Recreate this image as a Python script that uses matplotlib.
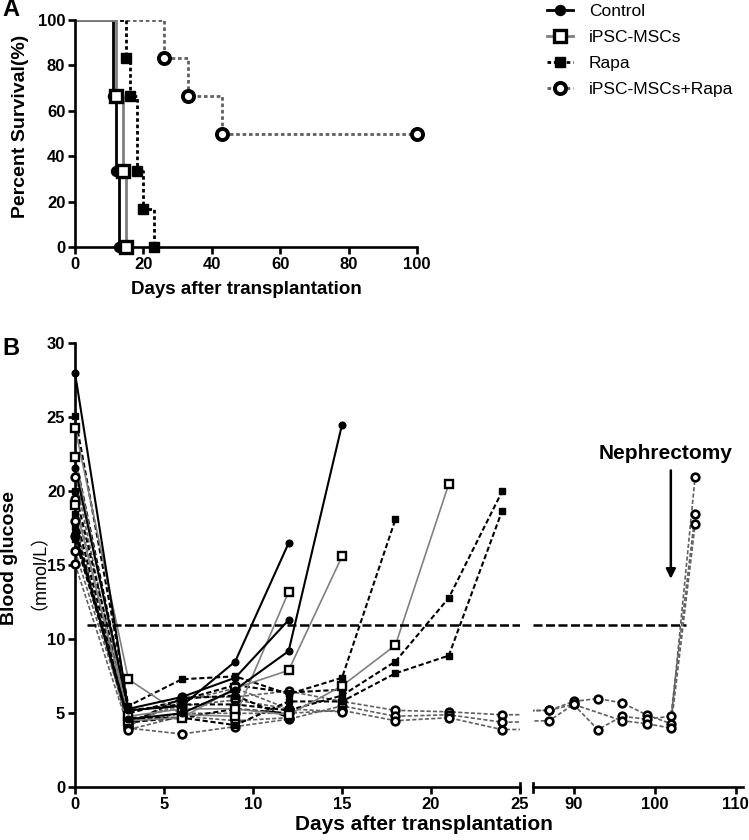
import matplotlib
matplotlib.use("Agg")
import matplotlib.pyplot as plt
from matplotlib.lines import Line2D

plt.rcParams["font.family"] = ["Liberation Sans", "Noto Sans CJK SC"]
plt.rcParams["font.weight"] = "bold"

# ---------------- data ----------------
groups = ["Control", "iPSC-MSCs", "Rapa", "iPSC-MSCs+Rapa"]

# panel A: survival step curves (time, percent)
surv_control_t = [0, 11, 12, 13]
surv_control_p = [100, 66.7, 33.3, 0]
surv_ipsc_t = [0, 12, 14, 15]
surv_ipsc_p = [100, 66.7, 33.3, 0]
surv_rapa_t = [0, 15, 16, 18, 20, 23]
surv_rapa_p = [100, 83.3, 66.7, 33.3, 16.7, 0]
surv_combo_t = [0, 26, 33, 43, 100]
surv_combo_p = [100, 83.3, 66.7, 50, 50]

# panel B: blood glucose per animal
days_early = [0, 3, 6, 9, 12, 15, 18, 21, 24]
days_late = [87, 90, 93, 96, 99, 102, 105]

bg_control = [
    [28.0, 5.2, 5.5, 8.5, 16.5],
    [21.6, 5.3, 6.1, 7.4, 11.3],
    [17.2, 4.6, 5.0, 6.6, 9.2, 24.5],
]
bg_ipsc = [
    [24.3, 7.3, 4.9, 4.8, 13.2],
    [22.3, 4.5, 4.7, 6.7, 7.9, 15.6],
    [19.1, 4.8, 5.3, 5.3, 4.9, 6.85, 9.6, 20.5],
]
bg_rapa = [
    [25.1, 5.5, 7.3, 7.5, 6.3, 7.4, 18.1],
    [22.3, 5.2, 5.6, 5.6, 5.2, 6.2, 8.5, 12.8, 20.0],
    [16.8, 4.7, 4.7, 4.2, 5.8, 5.8, 7.7, 8.9, 18.7],
    [20.0, 5.0, 5.9, 6.9, 6.4, 6.6],
    [18.5, 4.4, 4.7, 5.3, 5.0],
    [17.6, 4.3, 6.0, 6.2, 4.7],
]
bg_combo = [
    [21.0, 4.1, 6.1, 6.1, 6.5, 5.8, 5.2, 5.1, 4.9],
    [15.1, 4.0, 3.6, 4.1, 4.6, 5.5, 4.8, 4.9, 4.4],
    [17.0, 4.3, 5.0, 5.0, 5.0, 5.2, 4.5, 4.7, 3.9],
    [19.5, 4.2, 5.8, 6.7, 5.3, 5.1],
    [16.0, 4.5, 5.5, 5.9, 5.3],
    [18.0, 3.9, 4.8, 4.5, 4.7],
]
bg_combo_late = [
    [5.2, 5.8, 6.0, 5.7, 4.9, 4.3, 21.0],
    [5.2, 5.6, 3.9, 4.8, 4.6, 4.8, 18.5],
    [4.5, 5.6, None, 4.5, 4.3, 4.0, 17.8],
]

threshold = 11
nephrectomy_day = 102

# ---------------- styles ----------------
dash_a = (0, (1.3, 1.0))
dash_b = (0, (2.5, 1.3))
style = {
    "Control": dict(color="black", ls="-", marker="o", mfc="black"),
    "iPSC-MSCs": dict(color="#808080", ls="-", marker="s", mfc="white"),
    "Rapa": dict(color="black", ls="dash", marker="s", mfc="black"),
    "iPSC-MSCs+Rapa": dict(color="#606060", ls="dash", marker="o", mfc="white"),
}
size_a = {"Control": (7.2, 1.0), "iPSC-MSCs": (8.0, 2.4), "Rapa": (7.5, 1.0), "iPSC-MSCs+Rapa": (8.0, 2.8)}
size_b = {"Control": (4.8, 1.0), "iPSC-MSCs": (5.5, 1.7), "Rapa": (5.0, 1.0), "iPSC-MSCs+Rapa": (5.5, 1.9)}

fig = plt.figure(figsize=(7.49, 8.4), dpi=100)
W, H = 749.0, 840.0


def style_axis(ax):
    for s in ["top", "right"]:
        ax.spines[s].set_visible(False)
    for s in ["left", "bottom"]:
        ax.spines[s].set_linewidth(1.9)
    ax.tick_params(width=1.9, length=5, labelsize=12, direction="out", pad=2)


# ---------------- panel A ----------------
axA = fig.add_axes([75 / W, 1 - 247 / H, (417 - 75) / W, (247 - 20) / H])
surv = {
    "Control": (surv_control_t, surv_control_p),
    "iPSC-MSCs": (surv_ipsc_t, surv_ipsc_p),
    "Rapa": (surv_rapa_t, surv_rapa_p),
    "iPSC-MSCs+Rapa": (surv_combo_t, surv_combo_p),
}
for g in ["iPSC-MSCs+Rapa", "Rapa", "Control", "iPSC-MSCs"]:
    t, p = surv[g]
    st = style[g]
    ls = dash_a if st["ls"] == "dash" else "-"
    axA.plot(t, p, drawstyle="steps-post", color=st["color"], ls=ls, lw=2.0)
for g in ["iPSC-MSCs+Rapa", "Rapa", "Control", "iPSC-MSCs"]:
    t, p = surv[g]
    st = style[g]
    ms, mew = size_a[g]
    axA.plot(t[1:], p[1:], ls="none", marker=st["marker"], ms=ms, mfc=st["mfc"],
             mec="black", mew=mew, clip_on=False, zorder=5)
axA.set_xlim(0, 100)
axA.set_ylim(0, 100)
axA.set_xticks(range(0, 101, 20))
axA.set_yticks(range(0, 101, 20))
style_axis(axA)
fig.text(246 / W, 1 - 290 / H, "Days after transplantation", ha="center", va="center",
         fontsize=13.5)
fig.text(21 / W, 1 - 126 / H, "Percent Survival(%)", ha="center", va="center",
         rotation=90, fontsize=14)
fig.text(2 / W, 1 - 10 / H, "A", ha="left", va="center", fontsize=17)

# legend
handles = []
for g in groups:
    st = style[g]
    ls = dash_a if st["ls"] == "dash" else "-"
    ms, mew = size_a[g]
    handles.append(Line2D([], [], color=st["color"], ls=ls, lw=2.0, marker=st["marker"],
                          ms=ms, mfc=st["mfc"], mec="black", mew=mew))
fig.legend(handles, groups, loc="upper left", bbox_to_anchor=(547 / W, 1 - 4 / H),
           frameon=False, prop=dict(size=12.5, weight="normal"), handlelength=1.5,
           handletextpad=0.9, labelspacing=0.63, borderpad=0, borderaxespad=0)

# ---------------- panel B ----------------
bot = 1 - 787.3 / H
hgt = (787.3 - 343.3) / H
ax1 = fig.add_axes([75 / W, bot, (520 - 75) / W, hgt])
ax2 = fig.add_axes([533 / W, bot, (743 - 533) / W, hgt])
xr = {ax1: (0, 25), ax2: (85, 110.9)}

data_b = {
    "iPSC-MSCs+Rapa": bg_combo,
    "Rapa": bg_rapa,
    "iPSC-MSCs": bg_ipsc,
    "Control": bg_control,
}
lw_b = {"Control": 1.5, "iPSC-MSCs": 1.2, "Rapa": 1.5, "iPSC-MSCs+Rapa": 1.2}

for g, series in data_b.items():
    st = style[g]
    ls = dash_b if st["ls"] == "dash" else "-"
    ms, mew = size_b[g]
    for i, vals in enumerate(series):
        x = list(days_early[:len(vals)])
        y = list(vals)
        if g == "iPSC-MSCs+Rapa" and i < len(bg_combo_late):
            for d, v in zip(days_late, bg_combo_late[i]):
                if v is not None:
                    x.append(d)
                    y.append(v)
        for ax in (ax1, ax2):
            ax.plot(x, y, color=st["color"], ls=ls, lw=lw_b[g], zorder=2)
            lo, hi = xr[ax]
            px = [a for a in x if lo <= a <= hi]
            py = [b for a, b in zip(x, y) if lo <= a <= hi]
            ax.plot(px, py, ls="none", marker=st["marker"], ms=ms, mfc=st["mfc"],
                    mec="black", mew=mew, clip_on=False, zorder=4)

ax1.hlines(threshold, 0.65, 25, colors="black", lw=1.8, linestyles=[(0, (3.6, 1.4))])
ax2.hlines(threshold, 85, 103.9, colors="black", lw=1.8, linestyles=[(0, (3.6, 1.4))])

for ax in (ax1, ax2):
    ax.set_xlim(*xr[ax])
    ax.set_ylim(0, 30)
ax1.set_xticks(range(0, 26, 5))
ax1.set_yticks(range(0, 31, 5))
ax2.set_xticks([90, 100, 110])
style_axis(ax1)
style_axis(ax2)
ax2.spines["left"].set_visible(False)
ax2.tick_params(axis="y", left=False, labelleft=False)

# break caps
ax1.plot([1, 1], [-0.010, 0.010], transform=ax1.transAxes, color="black", lw=1.9, clip_on=False)
ax2.plot([0, 0], [-0.010, 0.010], transform=ax2.transAxes, color="black", lw=1.9, clip_on=False)

ax2.annotate("", xy=(nephrectomy_day, 13.9), xytext=(nephrectomy_day, 21.6),
             arrowprops=dict(arrowstyle="-|>", color="black", lw=1.8, mutation_scale=14))
ax2.text(nephrectomy_day - 0.6, 22.2, "Nephrectomy", ha="center", va="baseline",
         fontsize=15)

fig.text(424 / W, 1 - 825 / H, "Days after transplantation", ha="center", va="center",
         fontsize=15)
fig.text(10 / W, 1 - 558 / H, "Blood glucose", ha="center", va="center",
         rotation=90, fontsize=14)
fig.text(30 / W, 1 - 562 / H, "（mmol/L）", ha="center", va="center",
         rotation=90, fontsize=13, fontweight="normal")
fig.text(2 / W, 1 - 348 / H, "B", ha="left", va="center", fontsize=17)

fig.savefig("out.png", dpi=100)
